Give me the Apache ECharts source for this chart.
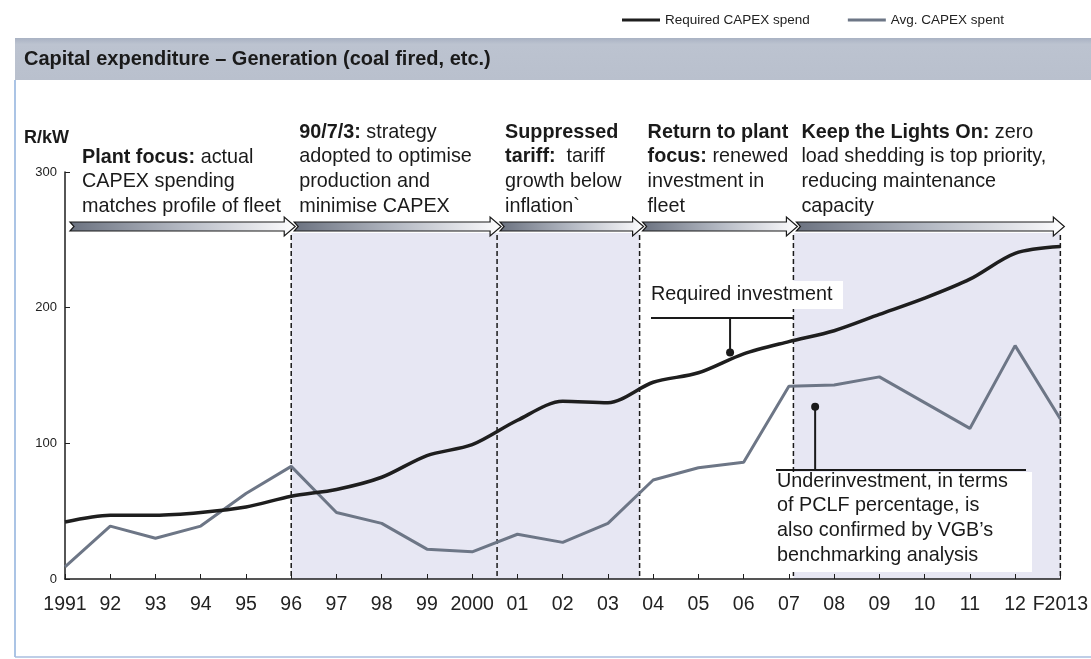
<!DOCTYPE html>
<html>
<head>
<meta charset="utf-8">
<script src="https://cdn.jsdelivr.net/npm/echarts@6/dist/echarts.min.js"></script>
<style>
  html, body { margin: 0; padding: 0; background: #fff; }
  #main { width: 1091px; height: 659px; }
</style>
</head>
<body>
<div id="main"></div>
<script>
// categories and values (R/kW)
var years = ['1991', '92', '93', '94', '95', '96', '97', '98', '99', '2000', '01', '02',
  '03', '04', '05', '06', '07', '08', '09', '10', '11', '12', 'F2013'];
var requiredSpend = [42, 47, 47, 49, 53, 61, 66, 75, 91, 99, 117, 131,
  130, 145, 152, 166, 175, 183, 195, 207, 221, 240, 245];
var avgSpent = [9, 39, 30, 39, 63, 83, 49, 41, 22, 20, 33, 27,
  41, 73, 82, 86, 142, 143, 149, 130, 111, 172, 118];
var yTicks = [0, 100, 200, 300];

// phase boundaries, in year-index units
var phaseBounds = [0, 5, 9.55, 12.7, 16.1, 22];
var phaseShaded = [false, true, true, false, true];
var phaseTexts = [
  '{b|Plant focus:} actual\nCAPEX spending\nmatches profile of fleet',
  '{b|90/7/3:} strategy\nadopted to optimise\nproduction and\nminimise CAPEX',
  '{b|Suppressed}\n{b|tariff:}  tariff\ngrowth below\ninflation`',
  '{b|Return to plant}\n{b|focus:} renewed\ninvestment in\nfleet',
  '{b|Keep the Lights On:} zero\nload shedding is top priority,\nreducing maintenance\ncapacity'
];

var FONT = "'Liberation Sans', Arial, sans-serif";
var BLACK = '#1e1e1e';
var GREY = '#6d7686';
var TXT = 19.8;

var chart = echarts.init(document.getElementById('main'));

var option = {
  animation: false,
  legend: {
    left: 617,
    top: 8,
    icon: 'rect',
    itemWidth: 38,
    itemHeight: 3,
    itemGap: 38,
    textStyle: { fontFamily: FONT, fontSize: 13.5, color: '#222' },
    data: ['Required CAPEX spend', 'Avg. CAPEX spent']
  },
  grid: { left: 65, right: 28, top: 172, bottom: 80 },
  xAxis: [
    {
      type: 'category',
      data: years,
      boundaryGap: false,
      axisLine: { lineStyle: { color: BLACK, width: 1.5 } },
      axisTick: { inside: true, length: 5, lineStyle: { color: BLACK } },
      axisLabel: { fontFamily: FONT, fontSize: 19.5, color: '#222', margin: 16, interval: 0 },
      splitLine: { show: false }
    },
    { type: 'value', min: 0, max: 22, show: false }
  ],
  yAxis: {
    type: 'value',
    min: yTicks[0],
    max: yTicks[yTicks.length - 1],
    interval: 100,
    axisLine: { show: true, lineStyle: { color: BLACK, width: 1.5 } },
    axisTick: { show: true, inside: true, length: 5, lineStyle: { color: BLACK } },
    axisLabel: { fontFamily: FONT, fontSize: 13, color: '#222', margin: 8 },
    splitLine: { show: false }
  },
  series: [
    {
      name: 'Required CAPEX spend',
      type: 'line',
      data: requiredSpend,
      smooth: 0.3,
      symbol: 'none',
      color: BLACK,
      lineStyle: { width: 3.5, color: BLACK },
      z: 4
    },
    {
      name: 'Avg. CAPEX spent',
      type: 'line',
      data: avgSpent,
      symbol: 'none',
      color: GREY,
      lineStyle: { width: 3, color: GREY },
      z: 3
    }
  ]
};
chart.setOption(option);

// overlay: phases, arrows, annotations
function px(v) { return chart.convertToPixel({ xAxisIndex: 1 }, v); }
function py(v) { return chart.convertToPixel({ yAxisIndex: 0 }, v); }

var y0 = py(0);
var graphics = [];

// frame + title bar
graphics.push({ type: 'rect', z: -10, shape: { x: 15, y: 38, width: 1076, height: 42 },
  style: { fill: new echarts.graphic.LinearGradient(0, 0, 0, 1, [
    { offset: 0, color: '#a9b2c3' }, { offset: 0.15, color: '#bcc3d0' }, { offset: 1, color: '#b9c0cd' }]) } });
graphics.push({ type: 'text', x: 24, y: 59, style: { text: 'Capital expenditure \u2013 Generation (coal fired, etc.)',
  fontFamily: FONT, fontSize: 20, fontWeight: 'bold', fill: '#1a1a1a', verticalAlign: 'middle' } });
graphics.push({ type: 'line', shape: { x1: 15, y1: 80, x2: 15, y2: 657 }, style: { stroke: '#8fb0dc', lineWidth: 1.5 } });
graphics.push({ type: 'line', shape: { x1: 15, y1: 657, x2: 1091, y2: 657 }, style: { stroke: '#a9bedf', lineWidth: 1.5 } });
graphics.push({ type: 'text', x: 24, y: 138, style: { text: 'R/kW', fontFamily: FONT, fontSize: 18,
  fontWeight: 'bold', fill: '#1a1a1a', verticalAlign: 'middle' } });

for (var i = 0; i < phaseTexts.length; i++) {
  var a = px(phaseBounds[i]);
  var b = px(phaseBounds[i + 1]);
  if (phaseShaded[i]) {
    graphics.push({ type: 'rect', z: -5, shape: { x: a, y: 233, width: b - a, height: y0 - 233 },
      style: { fill: '#e7e7f3' } });
  }
  // block arrow
  var s = a + (i === 0 ? 5 : 3);
  var e = b + 4;
  graphics.push({ type: 'polygon', z: 5, shape: { points: [
      [s, 222], [e - 11, 222], [e - 11, 217], [e, 226.5], [e - 11, 236], [e - 11, 231], [s, 231], [s + 4, 226.5]] },
    style: { stroke: '#1a1a1a', lineWidth: 1.2,
      fill: new echarts.graphic.LinearGradient(0, 0, 1, 0, [
        { offset: 0, color: '#6b7280' }, { offset: 0.5, color: '#b4b9c3' }, { offset: 0.92, color: '#f2f2f5' }, { offset: 1, color: '#ffffff' }]) } });
  // phase caption
  var tx = i === 0 ? a + 17 : a + 8;
  var ty = i === 0 ? 145 : 120;
  graphics.push({ type: 'text', x: tx, y: ty, style: { text: phaseTexts[i], fontFamily: FONT, fontSize: TXT,
    lineHeight: 24.6, fill: '#1a1a1a',
    rich: { b: { fontFamily: FONT, fontSize: TXT, fontWeight: 'bold', lineHeight: 24.6, fill: '#1a1a1a' } } } });
  // dashed boundary
  if (i > 0) {
    graphics.push({ type: 'line', z: 2, shape: { x1: a, y1: 235, x2: a, y2: y0 },
      style: { stroke: '#1a1a1a', lineWidth: 1.5, lineDash: [5, 3] } });
  }
}
var lastX = px(phaseBounds[phaseBounds.length - 1]);
graphics.push({ type: 'line', z: 2, shape: { x1: lastX, y1: 235, x2: lastX, y2: y0 },
  style: { stroke: '#1a1a1a', lineWidth: 1.5, lineDash: [5, 3] } });

// annotation: required investment
var d1x = px(14.7), d1y = py(167);
graphics.push({ type: 'rect', z: 6, shape: { x: 647, y: 281, width: 196, height: 28 }, style: { fill: '#fff' } });
graphics.push({ type: 'text', z: 7, x: 651, y: 295, style: { text: 'Required investment', fontFamily: FONT,
  fontSize: TXT, fill: '#1a1a1a', verticalAlign: 'middle' } });
graphics.push({ type: 'line', z: 7, shape: { x1: 651, y1: 318, x2: 793, y2: 318 }, style: { stroke: '#1a1a1a', lineWidth: 2 } });
graphics.push({ type: 'line', z: 7, shape: { x1: d1x, y1: 318, x2: d1x, y2: d1y }, style: { stroke: '#1a1a1a', lineWidth: 2 } });
graphics.push({ type: 'circle', z: 7, shape: { cx: d1x, cy: d1y, r: 4 }, style: { fill: '#1a1a1a' } });

// annotation: underinvestment
var d2x = px(16.58), d2y = py(127);
graphics.push({ type: 'rect', z: 6, shape: { x: 776, y: 472, width: 256, height: 100 }, style: { fill: '#fff' } });
graphics.push({ type: 'text', z: 7, x: 777, y: 469, style: {
  text: 'Underinvestment, in terms\nof PCLF percentage, is\nalso confirmed by VGB\u2019s\nbenchmarking analysis',
  fontFamily: FONT, fontSize: TXT, lineHeight: 24.6, fill: '#1a1a1a' } });
graphics.push({ type: 'line', z: 7, shape: { x1: 776, y1: 470, x2: 1026, y2: 470 }, style: { stroke: '#1a1a1a', lineWidth: 2 } });
graphics.push({ type: 'line', z: 7, shape: { x1: d2x, y1: d2y, x2: d2x, y2: 470 }, style: { stroke: '#1a1a1a', lineWidth: 2 } });
graphics.push({ type: 'circle', z: 7, shape: { cx: d2x, cy: d2y, r: 4 }, style: { fill: '#1a1a1a' } });

chart.setOption({ graphic: graphics });
</script>
</body>
</html>
